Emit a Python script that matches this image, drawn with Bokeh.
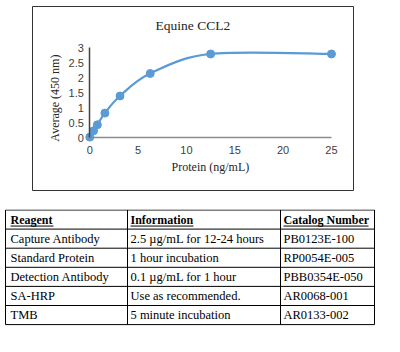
from bokeh.plotting import figure
from bokeh.models import Range1d, LinearAxis, Label, FixedTicker, ColumnDataSource
from bokeh.layouts import column
from bokeh.embed import file_html
from bokeh.resources import INLINE
from bokeh.core.properties import value

# ---------------- data ----------------
chart_title = "Equine CCL2"
x_title = "Protein (ng/mL)"
y_title = "Average (450 nm)"
conc = [0, 0.39, 0.78, 1.56, 3.125, 6.25, 12.5, 25]
od = [0.03, 0.24, 0.44, 0.83, 1.40, 2.15, 2.80, 2.80]
x_ticks = [0, 5, 10, 15, 20, 25]
y_ticks = [0, 0.5, 1, 1.5, 2, 2.5, 3]

headers = ["Reagent", "Information", "Catalog Number"]
reagents = ["Capture Antibody", "Standard Protein", "Detection Antibody", "SA-HRP", "TMB"]
info = ["2.5 \u00b5g/mL for 12-24 hours", "1 hour incubation", "0.1 \u00b5g/mL for 1 hour",
        "Use as recommended.", "5 minute incubation"]
catalog = ["PB0123E-100", "RP0054E-005", "PBB0354E-050", "AR0068-001", "AR0133-002"]

BLUE = "#5B9BD5"
SERIF = "Liberation Serif"
SANS = "Liberation Sans"

# ---------------- chart ----------------
p = figure(width=400, height=209, x_range=Range1d(-5.93, 27.28), y_range=Range1d(-1.75, 4.383),
           x_axis_location=None, y_axis_location=None, toolbar_location=None,
           output_backend="svg", min_border_left=32, min_border_right=47,
           min_border_top=6, min_border_bottom=19, frame_align=False)
p.grid.visible = False
p.outline_line_color = "#333333"
p.outline_line_width = 1
p.background_fill_color = "white"
p.border_fill_color = "white"

xaxis = LinearAxis(fixed_location=0, bounds=(0, 25), ticker=FixedTicker(ticks=x_ticks),
                   major_tick_line_color=None, minor_tick_line_color=None,
                   major_tick_out=0, major_tick_in=0, minor_tick_out=0, minor_tick_in=0,
                   axis_line_color="#8c8c8c", axis_line_width=1.5,
                   major_label_text_font=SANS, major_label_text_font_size="11px",
                   major_label_text_color="#404040", major_label_standoff=8)
yaxis = LinearAxis(fixed_location=0, bounds=(0, 3), ticker=FixedTicker(ticks=y_ticks),
                   major_tick_line_color=None, minor_tick_line_color=None,
                   major_tick_out=0, major_tick_in=0, minor_tick_out=0, minor_tick_in=0,
                   axis_line_color="#404040", axis_line_width=1.5,
                   major_label_text_font=SANS, major_label_text_font_size="11px",
                   major_label_text_color="#404040", major_label_standoff=6)
p.add_layout(xaxis, "below")
p.add_layout(yaxis, "left")

# smoothed line (Excel-style Bezier segments built from the data points)
n = len(conc)
seg = dict(x0=[], y0=[], x1=[], y1=[], cx0=[], cy0=[], cx1=[], cy1=[])
for i in range(n - 1):
    pa = (conc[max(i - 1, 0)], od[max(i - 1, 0)])
    p1 = (conc[i], od[i])
    p2 = (conc[i + 1], od[i + 1])
    pb = (conc[min(i + 2, n - 1)], od[min(i + 2, n - 1)])
    seg["x0"].append(p1[0]); seg["y0"].append(p1[1])
    seg["x1"].append(p2[0]); seg["y1"].append(p2[1])
    seg["cx0"].append(p1[0] + (p2[0] - pa[0]) / 6); seg["cy0"].append(p1[1] + (p2[1] - pa[1]) / 6)
    seg["cx1"].append(p2[0] - (pb[0] - p1[0]) / 6); seg["cy1"].append(p2[1] - (pb[1] - p1[1]) / 6)
p.bezier(x0="x0", y0="y0", x1="x1", y1="y1", cx0="cx0", cy0="cy0", cx1="cx1", cy1="cy1",
         source=ColumnDataSource(seg), line_color=BLUE, line_width=2.25)
p.scatter(conc, od, size=8, fill_color=BLUE, line_color=BLUE)

p.add_layout(Label(x=10.66, y=3.75, text=chart_title, text_align="center", text_baseline="middle",
                   text_font=SERIF, text_font_size="13.5px", text_color="#262626"))
p.add_layout(Label(x=12.48, y=-0.98, text=x_title, text_align="center", text_baseline="middle",
                   text_font=SERIF, text_font_size="12px", text_color="#262626"))
p.add_layout(Label(x=-3.6, y=1.33, text=y_title, text_align="center", text_baseline="middle",
                   angle=1.5708, text_font=SERIF, text_font_size="12px", text_color="#262626"))

# ---------------- table ----------------
t = figure(width=400, height=143, x_range=Range1d(0, 400), y_range=Range1d(143, 0),
           x_axis_location=None, y_axis_location=None, toolbar_location=None,
           output_backend="svg", min_border=0, frame_align=False)
t.grid.visible = False
t.outline_line_color = None

col_edges = [5, 127, 280, 374]
col_pad = [5, 3, 3]
row_top = 0.5
row_h = 19.1
n_rows = len(reagents) + 1
row_edges = [row_top + k * row_h for k in range(n_rows + 1)]

# grid lines
t.segment(x0=[col_edges[0]] * len(row_edges), x1=[col_edges[-1]] * len(row_edges),
          y0=row_edges, y1=row_edges, line_color="black", line_width=1)
t.segment(x0=col_edges, x1=col_edges, y0=[row_edges[0]] * len(col_edges),
          y1=[row_edges[-1]] * len(col_edges), line_color="black", line_width=1)

centers = [(row_edges[k] + row_edges[k + 1]) / 2 for k in range(n_rows)]
# header
hx = [col_edges[c] + col_pad[c] for c in range(3)]
t.text(x=hx, y=[centers[0]] * 3, text=headers, text_font=value(SERIF), text_font_size="12px",
       text_font_style="bold", text_baseline="middle", text_color="black")
under_end = [53, 193, 368]
t.segment(x0=hx, x1=under_end, y0=[centers[0] + 6.5] * 3, y1=[centers[0] + 6.5] * 3,
          line_color="black", line_width=1)
# body
for c, colvals in enumerate([reagents, info, catalog]):
    t.text(x=[hx[c]] * len(colvals), y=centers[1:], text=colvals, text_font=value(SERIF),
           text_font_size="12.5px", text_baseline="middle", text_color="black")

layout = column(p, t, spacing=0)
open("out.html", "w").write(file_html(layout, INLINE))
